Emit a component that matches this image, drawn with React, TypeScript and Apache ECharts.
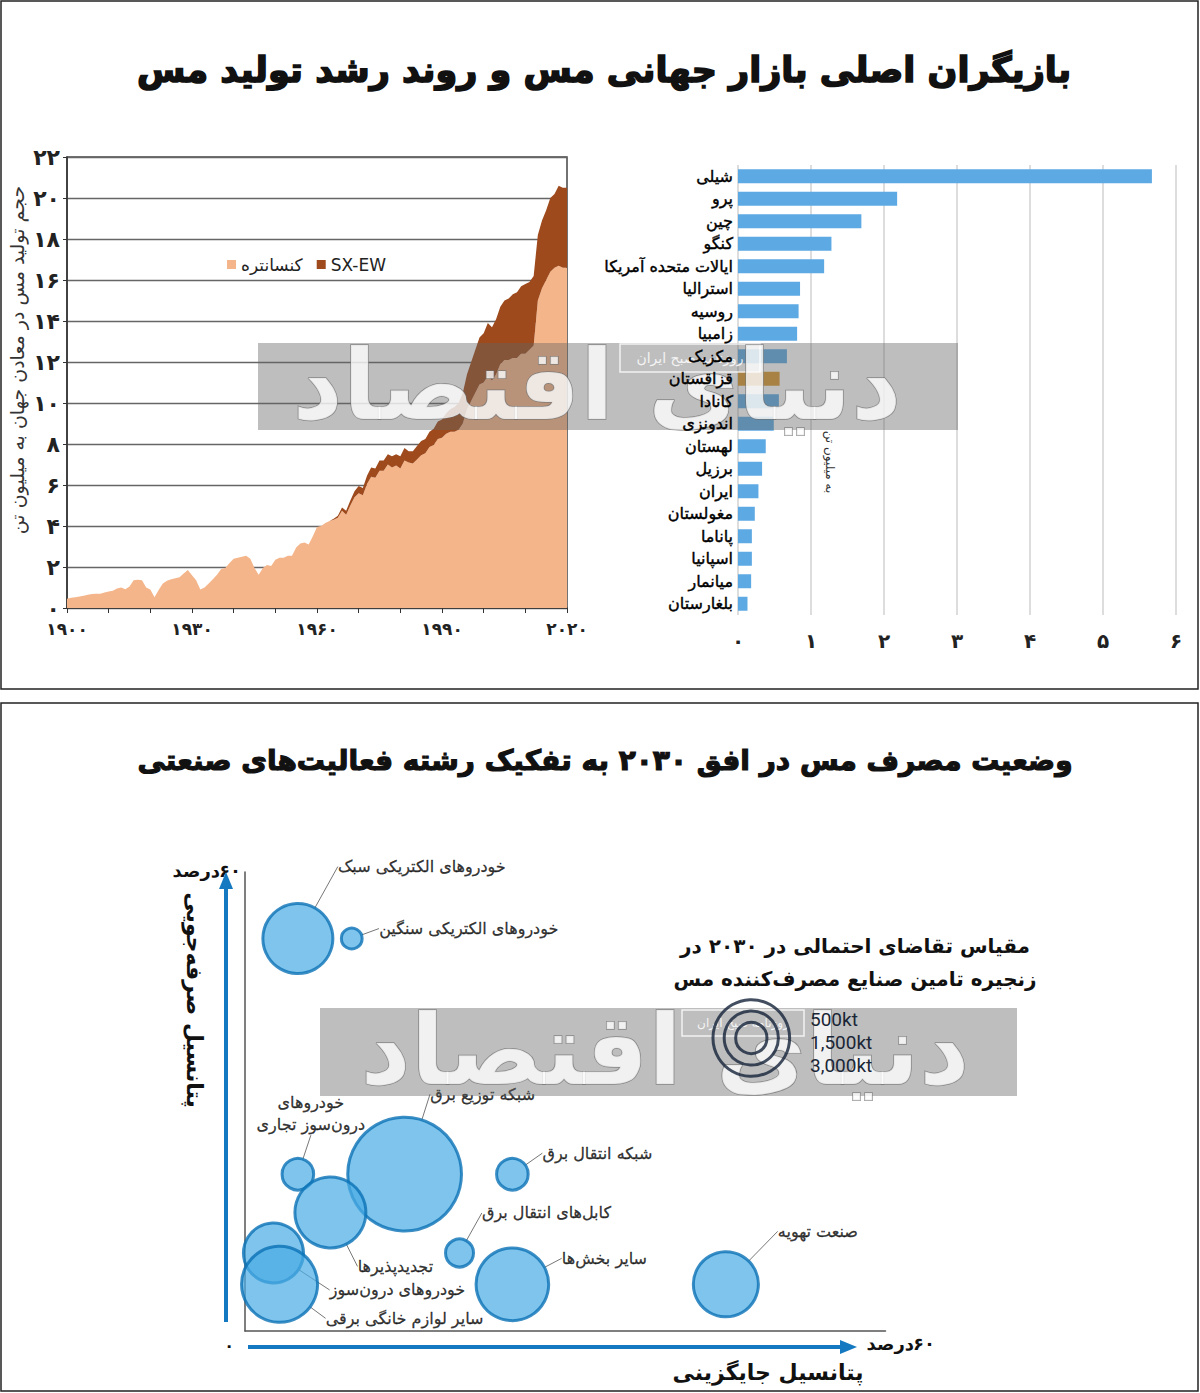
import React, { useEffect, useRef } from 'react';
import * as echarts from 'echarts';

const FONT = "'DejaVu Sans', 'Noto Sans', sans-serif";
const FA_DIGITS = '۰۱۲۳۴۵۶۷۸۹';
const toFa = (v: any) => String(v).replace(/\d/g, (d) => FA_DIGITS[+d]);

// ---------- Top-left: world copper mine production (million t) ----------
const YEARS = Array.from({ length: 121 }, (_, i) => String(1900 + i));
const CONCENTRATE = [
  0.45, 0.5, 0.52, 0.56, 0.6, 0.65, 0.68, 0.7, 0.7, 0.76,
  0.8, 0.84, 0.95, 1.0, 0.92, 1.05, 1.35, 1.38, 1.35, 1.0,
  0.9, 0.52, 0.88, 1.2, 1.33, 1.4, 1.45, 1.5, 1.68, 1.85,
  1.6, 1.35, 0.9, 1.0, 1.2, 1.4, 1.62, 1.9, 1.95, 2.2,
  2.4, 2.45, 2.5, 2.55, 2.4, 1.95, 1.62, 1.95, 2.1, 2.05,
  2.35, 2.45, 2.45, 2.55, 2.55, 2.95, 3.15, 3.2, 3.1, 3.5,
  3.95, 4.0, 4.15, 4.25, 4.3, 4.4, 4.75, 4.55, 5.0, 5.4,
  5.6, 5.5, 6.05, 6.4, 6.35, 6.7, 6.7, 7.0, 6.85, 6.95,
  6.8, 7.2, 7.1, 7.05, 7.25, 7.45, 7.55, 7.85, 7.95, 8.25,
  8.3, 8.5, 8.6, 8.6, 8.7, 9.0, 9.7, 10.1, 10.5, 10.9,
  11.0, 11.3, 11.1, 11.4, 11.9, 12.1, 12.1, 12.2, 12.2, 12.4,
  12.4, 12.6, 12.8, 15.0, 15.6, 16.0, 16.4, 16.6, 16.7, 16.6,
  16.6,
];
const SXEW = [
  0, 0, 0, 0, 0, 0, 0, 0, 0, 0,
  0, 0, 0, 0, 0, 0, 0, 0, 0, 0,
  0, 0, 0, 0, 0, 0, 0, 0, 0, 0,
  0, 0, 0, 0, 0, 0, 0, 0, 0, 0,
  0, 0, 0, 0, 0, 0, 0, 0, 0, 0,
  0, 0, 0, 0, 0, 0, 0, 0, 0, 0,
  0, 0, 0, 0, 0.05, 0.1, 0.15, 0.2, 0.25, 0.3,
  0.35, 0.35, 0.4, 0.45, 0.45, 0.5, 0.5, 0.5, 0.55, 0.55,
  0.6, 0.6, 0.55, 0.6, 0.65, 0.7, 0.7, 0.75, 0.8, 0.85,
  0.9, 1.0, 1.1, 1.2, 1.3, 1.5, 1.7, 1.9, 2.1, 2.3,
  2.4, 2.6, 2.6, 2.7, 2.8, 2.9, 3.0, 3.1, 3.2, 3.3,
  3.4, 3.3, 3.4, 3.2, 3.3, 3.4, 3.6, 3.6, 3.9, 3.9,
  3.9,
];
const SERIES_NAMES = ['کنسانتره', 'SX-EW'];

// ---------- Top-right: producers (million t) ----------
const COUNTRIES = [
  'شیلی', 'پرو', 'چین', 'کنگو', 'ایالات متحده آمریکا', 'استرالیا', 'روسیه', 'زامبیا',
  'مکزیک', 'قزاقستان', 'کانادا', 'اندونزی', 'لهستان', 'برزیل', 'ایران', 'مغولستان',
  'پاناما', 'اسپانیا', 'میانمار', 'بلغارستان',
];
const PRODUCTION = [
  5.67, 2.18, 1.69, 1.28, 1.18, 0.85, 0.83, 0.81, 0.67, 0.57,
  0.56, 0.49, 0.38, 0.33, 0.28, 0.23, 0.19, 0.19, 0.18, 0.13,
];
const HIGHLIGHT = 'قزاقستان';

// ---------- Bottom: 2030 copper demand by sector ----------
const BUBBLE_NAMES = [
  'خودروهای الکتریکی سبک',
  'خودروهای الکتریکی سنگین',
  'شبکه توزیع برق',
  'خودروهای درون\u200cسوز تجاری',
  'تجدیدپذیرها',
  'شبکه انتقال برق',
  'کابل\u200cهای انتقال برق',
  'سایر بخش\u200cها',
  'صنعت تهویه',
  'خودروهای درون\u200cسوز',
  'سایر لوازم خانگی برقی',
];
const BUBBLE_LABELS = [
  'خودروهای الکتریکی سبک',
  'خودروهای الکتریکی سنگین',
  'شبکه توزیع برق',
  'خودروهای\nدرون\u200cسوز تجاری',
  'تجدیدپذیرها',
  'شبکه انتقال برق',
  'کابل\u200cهای انتقال برق',
  'سایر بخش\u200cها',
  'صنعت تهویه',
  'خودروهای درون\u200cسوز',
  'سایر لوازم خانگی برقی',
];
const SUBSTITUTION = [5.2, 10.5, 15.7, 5.2, 8.4, 26.3, 21.1, 26.3, 47.3, 2.8, 3.4]; // x, %
const SAVING = [51.3, 51.3, 20.5, 20.5, 15.5, 20.5, 10.2, 6.1, 6.1, 10.2, 6.1]; // y, %
const DEMAND_KT = [2500, 220, 6600, 510, 2570, 510, 400, 2690, 2160, 1840, 2950];
const SCALE_KT = [3000, 1500, 500];
const SCALE_LABELS = ['500kt', '1,500kt', '3,000kt'];

// label offsets (style, not data)
const LABEL_DX = [124, 117, 78, 13, 65, 85, 87, 92, 92, 124, 125];
const LABEL_DY = [-72, -10, -80, -61, 54, -21, -40, -26, -53, 37, 34];

const bubbleSize = (v: number[]) => 2 * 0.7 * Math.sqrt(v[2]);

function buildOption() {
  const wmText = (x: number, y: number) => ({
    type: 'text', x, y, z: 101,
    style: {
      text: 'دنیای اقتصاد', fontSize: 98, fontWeight: 'bold', fontFamily: FONT,
      fill: 'rgba(255,255,255,0.78)', stroke: 'rgba(110,110,110,0.7)', lineWidth: 1.5,
      align: 'center', verticalAlign: 'middle',
    },
  });
  const percentLabel = (xRight: number, y: number) => [
    { type: 'text', x: xRight, y, style: { text: '۶۰', fontSize: 18, fontWeight: 'bold', fontFamily: FONT, fill: '#111', align: 'right', verticalAlign: 'middle' } },
    { type: 'text', x: xRight - 21, y, style: { text: 'درصد', fontSize: 18, fontWeight: 'bold', fontFamily: FONT, fill: '#111', align: 'right', verticalAlign: 'middle' } },
  ];
  const graphic: any[] = [
    // panel frames
    { type: 'rect', shape: { x: 1, y: 1, width: 1197, height: 688 }, style: { fill: 'none', stroke: '#222', lineWidth: 1.5 } },
    { type: 'rect', shape: { x: 1, y: 703, width: 1197, height: 688 }, style: { fill: 'none', stroke: '#222', lineWidth: 1.5 } },
    // titles
    {
      type: 'text', x: 604, y: 70,
      style: { text: 'بازیگران اصلی بازار جهانی مس و روند رشد تولید مس', fontSize: 35, fontWeight: 'bold', fontFamily: FONT, fill: '#111', stroke: '#111', lineWidth: 1.6, align: 'center', verticalAlign: 'middle' },
    },
    {
      type: 'text', x: 605, y: 760,
      style: { text: 'وضعیت مصرف مس در افق ۲۰۳۰ به تفکیک رشته فعالیت\u200cهای صنعتی', fontSize: 28, fontWeight: 'bold', fontFamily: FONT, fill: '#111', stroke: '#111', lineWidth: 1.2, align: 'center', verticalAlign: 'middle' },
    },
    // axis names
    {
      type: 'text', x: 17, y: 360, rotation: Math.PI / 2,
      style: { text: 'حجم تولید مس در معادن جهان به میلیون تن', fontSize: 19, fontFamily: FONT, fill: '#333', align: 'center', verticalAlign: 'middle' },
    },
    {
      type: 'text', x: 830, y: 462, rotation: -Math.PI / 2,
      style: { text: 'به میلیون تن', fontSize: 12, fontFamily: FONT, fill: '#333', align: 'center', verticalAlign: 'middle' },
    },
    {
      type: 'text', x: 194, y: 1000, rotation: -Math.PI / 2,
      style: { text: 'پتانسیل صرفه\u200cجویی', fontSize: 22, fontWeight: 'bold', fontFamily: FONT, fill: '#111', align: 'center', verticalAlign: 'middle' },
    },
    {
      type: 'text', x: 768, y: 1372,
      style: { text: 'پتانسیل جایگزینی', fontSize: 22, fontWeight: 'bold', fontFamily: FONT, fill: '#111', align: 'center', verticalAlign: 'middle' },
    },
    ...percentLabel(241, 870),
    ...percentLabel(935, 1343),
    { type: 'text', x: 229, y: 1345, style: { text: '۰', fontSize: 16, fontWeight: 'bold', fontFamily: FONT, fill: '#111', align: 'center', verticalAlign: 'middle' } },
    // blue arrows
    { type: 'line', shape: { x1: 226, y1: 1322, x2: 226, y2: 886 }, style: { stroke: '#1479C0', lineWidth: 4 } },
    { type: 'polygon', shape: { points: [[226, 872], [219, 889], [233, 889]] }, style: { fill: '#1479C0' } },
    { type: 'line', shape: { x1: 248, y1: 1347, x2: 842, y2: 1347 }, style: { stroke: '#1479C0', lineWidth: 4 } },
    { type: 'polygon', shape: { points: [[857, 1347], [840, 1340], [840, 1354]] }, style: { fill: '#1479C0' } },
    // size legend
    {
      type: 'text', x: 855, y: 946,
      style: { text: 'مقیاس تقاضای احتمالی در ۲۰۳۰ در', fontSize: 20, fontWeight: 'bold', fontFamily: FONT, fill: '#111', align: 'center', verticalAlign: 'middle' },
    },
    {
      type: 'text', x: 855, y: 979,
      style: { text: 'زنجیره تامین صنایع مصرف\u200cکننده مس', fontSize: 20, fontWeight: 'bold', fontFamily: FONT, fill: '#111', align: 'center', verticalAlign: 'middle' },
    },
    // watermark bands
    { type: 'rect', z: 100, shape: { x: 258, y: 343, width: 700, height: 87 }, style: { fill: 'rgba(100,100,100,0.42)' } },
    { type: 'rect', z: 100, shape: { x: 320, y: 1008, width: 697, height: 88 }, style: { fill: 'rgba(100,100,100,0.42)' } },
    { type: 'rect', z: 101, shape: { x: 620, y: 344, width: 140, height: 28 }, style: { fill: 'none', stroke: 'rgba(255,255,255,0.8)', lineWidth: 1.5 } },
    { type: 'text', z: 101, x: 690, y: 358, style: { text: 'روزنامه صبح ایران', fontSize: 14, fontFamily: FONT, fill: 'rgba(255,255,255,0.85)', align: 'center', verticalAlign: 'middle' } },
    { type: 'rect', z: 101, shape: { x: 682, y: 1010, width: 122, height: 26 }, style: { fill: 'none', stroke: 'rgba(255,255,255,0.8)', lineWidth: 1.5 } },
    { type: 'text', z: 101, x: 743, y: 1023, style: { text: 'روزنامه صبح ایران', fontSize: 12, fontFamily: FONT, fill: 'rgba(255,255,255,0.85)', align: 'center', verticalAlign: 'middle' } },
    wmText(597, 385),
    wmText(665, 1050),
    ...SCALE_LABELS.map((t, i) => ({
      type: 'text', z: 120, x: 810, y: 1019 + i * 23,
      style: { text: t, fontSize: 19, fontFamily: "'Liberation Sans Narrow', 'Roboto', sans-serif", fill: '#1a2636', align: 'left', verticalAlign: 'middle' },
    })),
  ];

  return {
    animation: false,
    backgroundColor: '#ffffff',
    textStyle: { fontFamily: FONT },
    legend: {
      data: SERIES_NAMES,
      left: 222, top: 251,
      icon: 'rect', itemWidth: 9, itemHeight: 9, itemGap: 14,
      textStyle: { fontSize: 17, color: '#222', fontFamily: FONT },
    },
    grid: [
      { left: 67, top: 157, width: 500, height: 451, show: true, borderColor: '#444', borderWidth: 1.5, backgroundColor: 'transparent' },
      { left: 738, top: 165, width: 438, height: 450 },
      { left: 245, top: 872, width: 640.5, height: 459 },
    ],
    xAxis: [
      {
        gridIndex: 0, type: 'category', data: YEARS, boundaryGap: false,
        axisLine: { lineStyle: { color: '#333', width: 1.5 } },
        axisTick: { interval: (i: number) => i % 10 === 0, length: 5, lineStyle: { color: '#333' } },
        axisLabel: { interval: (i: number) => i % 30 === 0, formatter: toFa, fontSize: 17, fontWeight: 'bold', color: '#222', margin: 12, fontFamily: FONT },
        splitLine: { show: false },
      },
      {
        gridIndex: 1, type: 'value', min: 0, max: 6, interval: 1,
        axisLine: { show: false }, axisTick: { show: false },
        splitLine: { show: true, lineStyle: { color: '#d2d2d2', width: 1.5 } },
        axisLabel: { formatter: toFa, fontSize: 20, fontWeight: 'bold', color: '#222', margin: 16, fontFamily: FONT },
      },
      {
        gridIndex: 2, type: 'value', min: 0, max: 63,
        axisLine: { show: true, onZero: false, lineStyle: { color: '#555', width: 1.5 } },
        axisTick: { show: false }, axisLabel: { show: false }, splitLine: { show: false },
      },
    ],
    yAxis: [
      {
        gridIndex: 0, type: 'value', min: 0, max: 22, interval: 2,
        axisLine: { show: true, lineStyle: { color: '#333', width: 1.5 } },
        axisTick: { show: true, length: 4, lineStyle: { color: '#333' } },
        splitLine: { lineStyle: { color: '#666', width: 1.3 } },
        axisLabel: { formatter: toFa, fontSize: 22, fontWeight: 'bold', color: '#222', margin: 7, fontFamily: FONT },
      },
      {
        gridIndex: 1, type: 'category', data: COUNTRIES, inverse: true, z: 120,
        axisLine: { show: false }, axisTick: { show: false },
        axisLabel: { fontSize: 16, color: '#000', margin: 5, fontFamily: FONT, textBorderColor: '#000', textBorderWidth: 0.4 },
      },
      {
        gridIndex: 2, type: 'value', min: 0, max: 60,
        axisLine: { show: true, onZero: false, lineStyle: { color: '#555', width: 1.5 } },
        axisTick: { show: false }, axisLabel: { show: false }, splitLine: { show: false },
      },
    ],
    series: [
      {
        name: SERIES_NAMES[0], type: 'line', xAxisIndex: 0, yAxisIndex: 0, stack: 'prod',
        data: CONCENTRATE, showSymbol: false, symbol: 'none', color: '#F5B58B',
        lineStyle: { width: 0 }, areaStyle: { color: '#F5B58B', opacity: 1 },
      },
      {
        name: SERIES_NAMES[1], type: 'line', xAxisIndex: 0, yAxisIndex: 0, stack: 'prod',
        data: SXEW, showSymbol: false, symbol: 'none', color: '#9E4A1C',
        lineStyle: { width: 0 }, areaStyle: { color: '#9E4A1C', opacity: 1 },
      },
      {
        name: 'production', type: 'bar', xAxisIndex: 1, yAxisIndex: 1,
        data: PRODUCTION, barWidth: 14,
        itemStyle: { color: (p: any) => (p.name === HIGHLIGHT ? '#D9982E' : '#5DA9E3') },
      },
      {
        name: 'sectors', type: 'scatter', xAxisIndex: 2, yAxisIndex: 2,
        data: BUBBLE_NAMES.map((n, i) => ({ name: n, value: [SUBSTITUTION[i], SAVING[i], DEMAND_KT[i]] })),
        symbolSize: bubbleSize,
        itemStyle: { color: 'rgba(74,171,228,0.88)', borderColor: '#0B72B5', borderWidth: 3 },
        label: {
          show: true, position: 'inside', formatter: (p: any) => BUBBLE_LABELS[p.dataIndex],
          fontSize: 16, color: '#000', fontFamily: FONT, lineHeight: 22, align: 'center',
          textBorderColor: '#000', textBorderWidth: 0.3,
        },
        labelLayout: (p: any) => ({ dx: LABEL_DX[p.dataIndex], dy: LABEL_DY[p.dataIndex] }),
        labelLine: { show: true, lineStyle: { color: '#777', width: 1 } },
        emphasis: { disabled: true },
      },
      {
        name: 'scale', type: 'scatter', xAxisIndex: 2, yAxisIndex: 2, z: 120,
        data: SCALE_KT.map((kt) => [49.8, 38.3, kt]),
        symbolSize: bubbleSize,
        itemStyle: { color: 'rgba(0,0,0,0)', borderColor: '#14233A', borderWidth: 3 },
        emphasis: { disabled: true },
      },
    ],
    graphic,
  };
}

export default function App() {
  const ref = useRef<HTMLDivElement>(null);
  useEffect(() => {
    const chart = echarts.init(ref.current!, null, { renderer: 'svg' });
    chart.setOption(buildOption() as any);
    return () => chart.dispose();
  }, []);
  return (
    <div
      ref={ref}
      style={{ position: 'absolute', left: 0, top: 0, width: 1200, height: 1393, background: '#fff' }}
    />
  );
}
